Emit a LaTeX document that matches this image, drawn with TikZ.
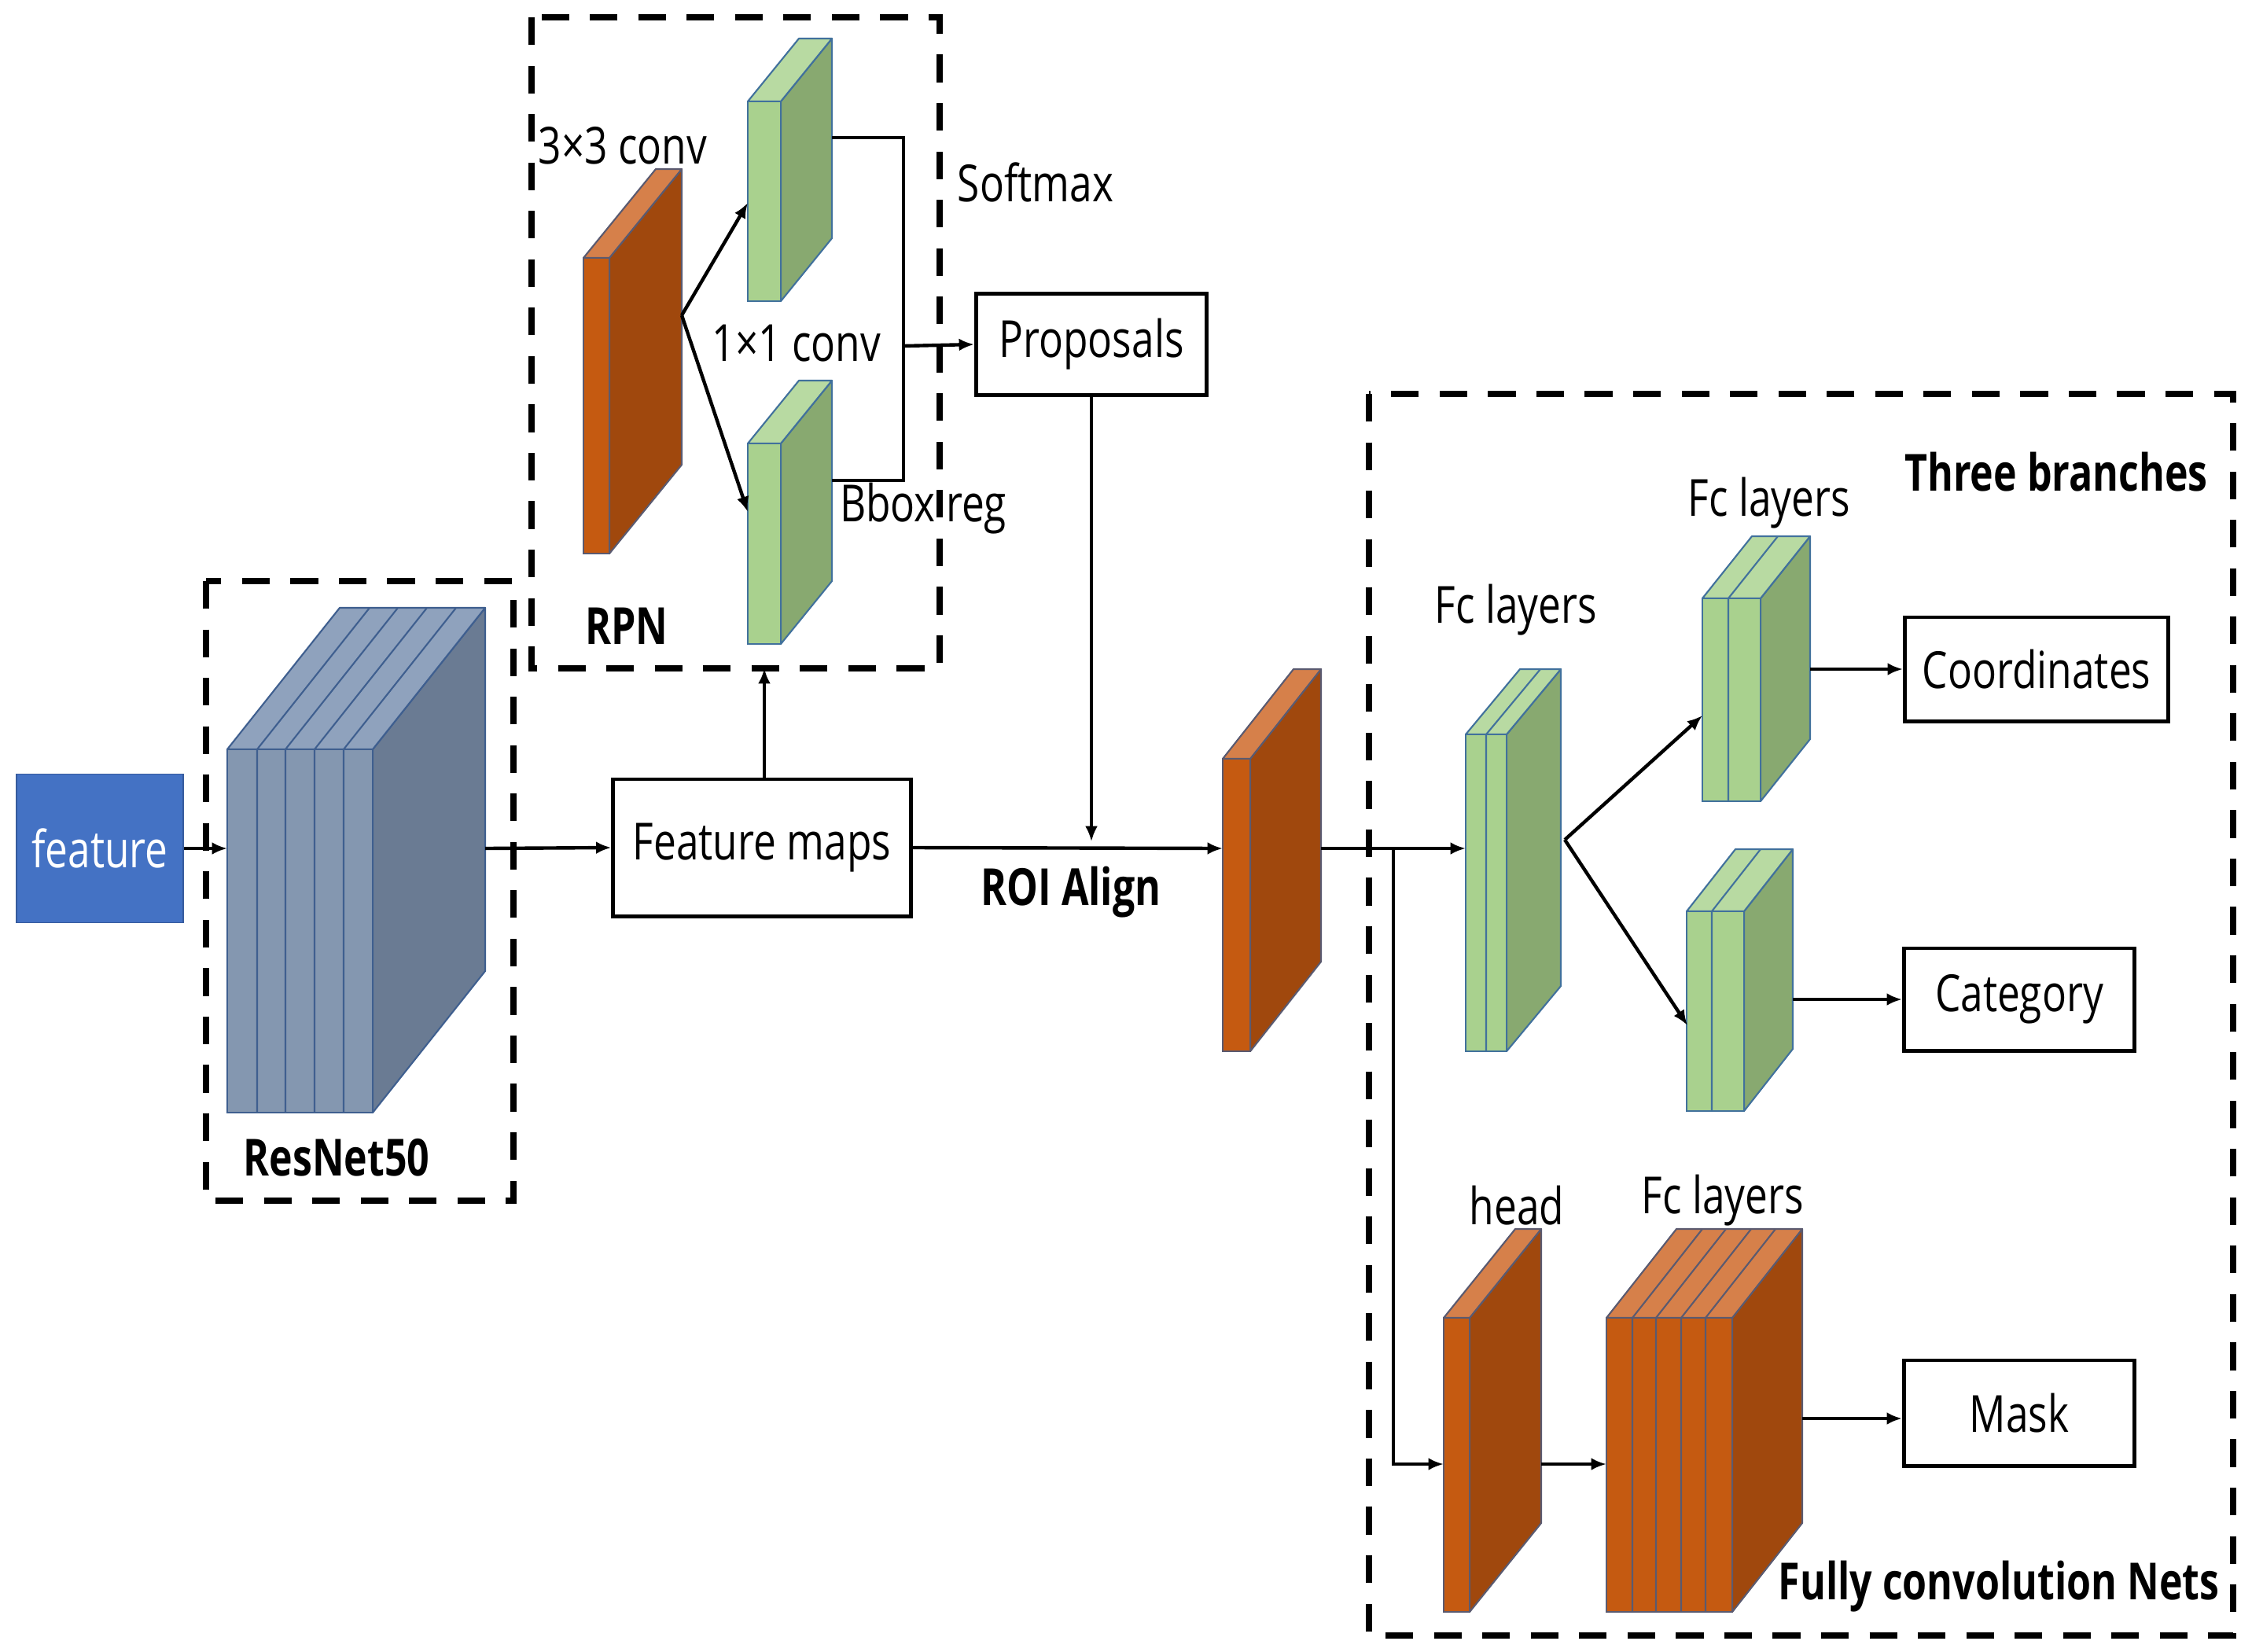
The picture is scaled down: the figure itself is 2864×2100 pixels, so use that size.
\documentclass[tikz,border=0pt]{standalone}
\usepackage{fontspec}
\usetikzlibrary{arrows.meta}
\newfontfamily\labfont[FakeStretch=0.79]{Open Sans}
\newfontfamily\blabfont[FakeStretch=0.77]{Open Sans Bold}
\definecolor{blufront}{HTML}{8497B0}
\definecolor{bluside}{HTML}{6A7B93}
\definecolor{blutop}{HTML}{8FA2BD}
\definecolor{bluline}{HTML}{3F5F8F}
\definecolor{ornfront}{HTML}{C55A11}
\definecolor{ornside}{HTML}{A0480D}
\definecolor{orntop}{HTML}{D6804A}
\definecolor{ornline}{HTML}{5A5A70}
\definecolor{grnfront}{HTML}{A9D18E}
\definecolor{grnside}{HTML}{88A970}
\definecolor{grntop}{HTML}{B8DAA2}
\definecolor{grnline}{HTML}{41719C}
\definecolor{featblue}{HTML}{4472C4}
% #1 xL, #2 xR, #3 yT, #4 yB, #5 dx, #6 dy, #7 theme
\newcommand\cube[7]{%
  \filldraw[fill=#7side,draw=#7line,line width=0.6pt,line join=round]
    (#2,#3) -- ({#2+#5},{#3-#6}) -- ({#2+#5},{#4-#6}) -- (#2,#4) -- cycle;
  \filldraw[fill=#7top,draw=#7line,line width=0.6pt,line join=round]
    (#1,#3) -- ({#1+#5},{#3-#6}) -- ({#2+#5},{#3-#6}) -- (#2,#3) -- cycle;
  \filldraw[fill=#7front,draw=#7line,line width=0.6pt] (#1,#3) rectangle (#2,#4);
}
% internal layer lines: #1 list, #2 yT, #3 yB, #4 dx, #5 dy, #6 theme
\newcommand\cubelines[6]{%
  \foreach \xi in {#1}{
    \draw[#6line,line width=0.6pt] (\xi,#3) -- (\xi,#2) -- ({\xi+#4},{#2-#5});
  }
}
\begin{document}
\begin{tikzpicture}[x=0.01cm,y=-0.01cm,
  lab/.style={font=\labfont\fontsize{18.5}{22}\selectfont,inner sep=0pt},
  blab/.style={font=\blabfont\fontsize{18.5}{22}\selectfont,inner sep=0pt},
  obox/.style={draw,line width=1.4pt,fill=white,inner sep=0pt,font=\labfont\fontsize{18.5}{22}\selectfont},
  dbox/.style={draw,line width=2.5pt,dash pattern=on 10pt off 7.5pt},
  arr/.style={line width=1.25pt,-{Latex[length=5.5pt,width=4.5pt]}},
  ln/.style={line width=1.25pt}]
\useasboundingbox (0,0) rectangle (2864,2100);
\fill[white] (0,0) rectangle (2864,2100);

% ---------- dashed group frames ----------
\draw[dbox] (262,739) rectangle (653,1527);
\draw[dbox] (676,22) rectangle (1195,850);
\draw[dbox] (1741,501) rectangle (2840,2080);

% ---------- feature ----------
\node[fill=featblue,draw=featblue!80!black,line width=0.5pt,minimum width=21.2mm,minimum height=18.9mm,
  text=white,font=\labfont\fontsize{18.5}{22}\selectfont] (feat) at (127,1079) {feature};

% ---------- ResNet50 block ----------
\cube{289}{474}{953}{1415}{143}{180}{blu}
\cubelines{327,363,400,437}{953}{1415}{143}{180}{blu}
\coordinate (resin) at (289,1079);
\coordinate (resout) at (617,1079);
\node[blab] (resnetlab) at (428,1472) {ResNet50};

% ---------- Feature maps ----------
\node[obox,minimum width=37.8mm,minimum height=17.4mm] (fmap) at (969,1078) {Feature maps};

% ---------- RPN ----------
\cube{742}{775}{328}{704}{92}{113}{orn}
\coordinate (rpnout) at (867,401);
\cube{951}{993}{129}{383}{65}{80}{grn}
\cube{951}{993}{564}{819}{65}{80}{grn}
\coordinate (softin) at (951,258);
\coordinate (bboxin) at (951,651);
\coordinate (softout) at (1058,175);
\coordinate (bboxout) at (1058,611);
\coordinate (brk) at (1149,440);
\coordinate (rpnbot) at (972,850);

\node[lab] (l33) at (792,185) {3×3 conv};
\node[lab] (lsoft) at (1317,232) {Softmax};
\node[lab] (l11) at (1013,437) {1×1 conv};
\node[lab] (lbbox) at (1174,647) {Bbox reg};
\node[blab] (lrpn) at (797,796) {RPN};

\node[obox,minimum width=29.3mm,minimum height=12.9mm] (prop) at (1388,438) {Proposals};

% ---------- ROI ----------
\cube{1555}{1590}{965}{1337}{90}{114}{orn}
\coordinate (roiin) at (1555,1079);
\coordinate (roiout) at (1680,1079);
\coordinate (roidrop) at (1388,1070);
\node[blab] (lroi) at (1362,1135) {ROI Align};

% ---------- Three branches ----------
\cube{1864}{1916}{934}{1337}{69}{83}{grn}
\cubelines{1890}{934}{1337}{69}{83}{grn}
\coordinate (fc1in) at (1864,1079);
\coordinate (fc1out) at (1990,1068);
\node[lab] (lfc1) at (1928,776) {Fc layers};

\cube{2165}{2239}{761}{1019}{63}{79}{grn}
\cubelines{2198}{761}{1019}{63}{79}{grn}
\coordinate (upin) at (2165,910);
\coordinate (upout) at (2302,851);
\node[lab] (lfc2) at (2250,640) {Fc layers};

\cube{2145}{2218}{1159}{1413}{62}{79}{grn}
\cubelines{2177}{1159}{1413}{62}{79}{grn}
\coordinate (loin) at (2146,1304);
\coordinate (loout) at (2280,1271);

\node[blab] (l3b) at (2615,600) {Three branches};
\node[obox,minimum width=33.5mm,minimum height=13.2mm] (coord) at (2590,851) {Coordinates};
\node[obox,minimum width=29.3mm,minimum height=13.0mm] (cat) at (2568,1271) {Category};

% ---------- mask branch ----------
\cube{1836}{1869}{1676}{2050}{91}{113}{orn}
\coordinate (headin) at (1836,1862);
\coordinate (headout) at (1960,1862);
\node[lab] (lhead) at (1929,1533) {head};

\cube{2043}{2203}{1676}{2050}{89}{113}{orn}
\cubelines{2076,2106,2138,2169}{1676}{2050}{89}{113}{orn}
\coordinate (stin) at (2043,1862);
\coordinate (stout) at (2292,1804);
\node[lab] (lfc3) at (2191,1527) {Fc layers};

\node[obox,minimum width=29.3mm,minimum height=13.4mm] (mask) at (2568,1797) {Mask};
\node[blab] (lfcn) at (2542,2018) {Fully convolution Nets};

\coordinate (split) at (1772,1079);
\coordinate (splitdown) at (1772,1862);

% ---------- connectors ----------
\draw[arr] (feat.east) -- (resin);
\draw[arr] (resout) -- (fmap.west);
\draw[arr] (fmap.north -| rpnbot) -- (rpnbot);
\draw[arr] (rpnout) -- (softin);
\draw[arr] (rpnout) -- (bboxin);
\draw[ln] (softout) -| (brk) |- (bboxout);
\draw[arr] (brk) -- (prop.west);
\draw[line width=0.9pt,-{Latex[length=5.5pt,width=4.5pt]}] (prop.south) -- (roidrop);
\draw[arr] (fmap.east) -- (roiin);
\draw[arr] (roiout) -- (fc1in);
\draw[arr] (split) -- (splitdown) -- (headin);
\draw[arr] (fc1out) -- (upin);
\draw[arr] (fc1out) -- (loin);
\draw[arr] (upout) -- (upout -| coord.west);
\draw[arr] (loout) -- (loout -| cat.west);
\draw[arr] (headout) -- (stin);
\draw[arr] (stout) -- (stout -| mask.west);
\end{tikzpicture}
\end{document}
